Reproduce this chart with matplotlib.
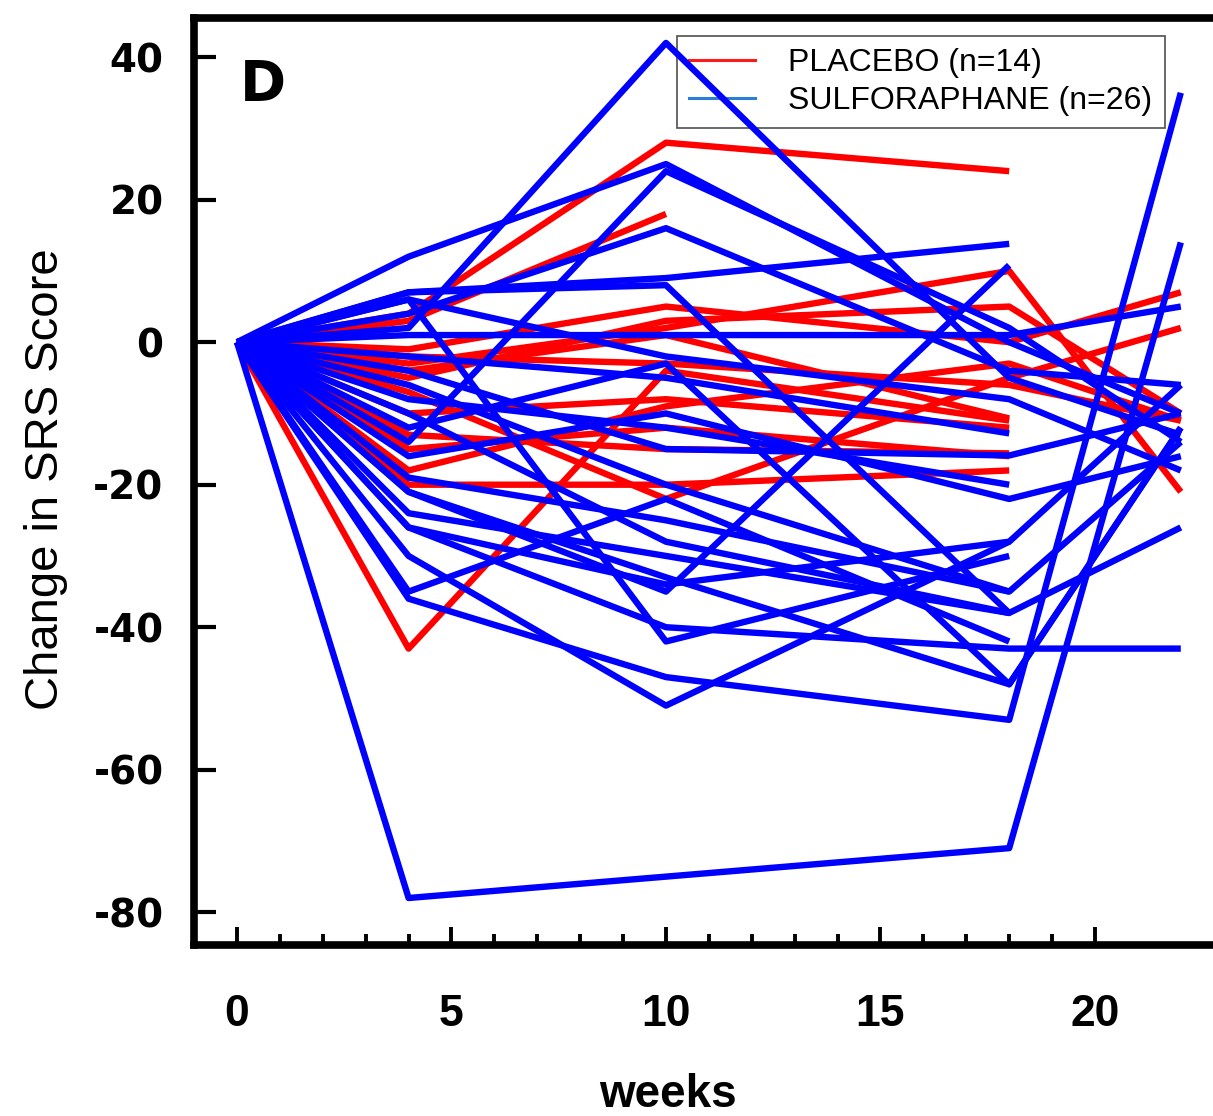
import numpy as np
import matplotlib
matplotlib.use("Agg")
import matplotlib.pyplot as plt
from matplotlib.lines import Line2D
from matplotlib.ticker import FixedLocator

plt.rcParams["axes.unicode_minus"] = False

weeks = [0, 4, 10, 18, 22]
nan = np.nan

# placebo subjects (n=14), change in SRS at each visit
placebo = [
    [0, 4, 28, 24, nan],
    [0, 3, 18, nan, nan],
    [0, -43, -4, -11, nan],
    [0, -7, -22, -5, 2],
    [0, -3, 2, 10, -21],
    [0, -1, 5, 0, 7],
    [0, -5, 3, 5, -10],
    [0, -2, -3, -6, -11],
    [0, -10, -8, -12, nan],
    [0, -15, -12, -16, nan],
    [0, -20, -20, -18, nan],
    [0, -18, -9, -3, -11],
    [0, -4, 1, -10.7, nan],
    [0, -13, -15, -15.6, nan],
]

# sulforaphane subjects (n=26)
sulforaphane = [
    [0, 2, 42, -5, -13],
    [0, 12, 25, 0, -10],
    [0, -14, 24, 2, -14],
    [0, 4, 16, -4, -6],
    [0, 7, 9, 13.8, nan],
    [0, -21, -35, 10.8, nan],
    [0, -36, -47, -53, 35],
    [0, -78, -75, -71, 14],
    [0, -26, -40, -43, -43],
    [0, 1, 1, 1, 5],
    [0, 6, -2, -8, -18],
    [0, -2, -5, -12.8, nan],
    [0, -6, -20, -35, -14],
    [0, -10, -28, -38, -26],
    [0, -16, -10, -22, -16],
    [0, -21, -33, -48, -12],
    [0, 6, -42, -30, nan],
    [0, -30, -51, -28, nan],
    [0, -35, -22, -42, nan],
    [0, -4, -15, -15.9, -10],
    [0, -19, -25, -35, nan],
    [0, -24, -30, -38, nan],
    [0, -12, -3, -48, -12],
    [0, 7, 8, -38, nan],
    [0, -8, -12, -20, nan],
    [0, -26, -34, -28, -6],
]

legend_labels = ["PLACEBO (n=14)", "SULFORAPHANE (n=26)"]
yticks = [-80, -60, -40, -20, 0, 20, 40]
xticks = [0, 5, 10, 15, 20]

arial = ["Liberation Sans", "DejaVu Sans"]

fig = plt.figure(figsize=(12.13, 11.16), dpi=100)
ax = fig.add_axes([0.160, 0.1532, 0.8665, 0.8307])

for row in placebo:
    ax.plot(weeks, row, color="#ff0000", lw=4.6, solid_capstyle="butt")
for row in sulforaphane:
    ax.plot(weeks, row, color="#0000ff", lw=4.6, solid_capstyle="butt")

ax.set_xlim(-1, 23.5)
ax.set_ylim(-84.6, 45.5)

for s in ax.spines.values():
    s.set_linewidth(5.5)

ax.yaxis.set_major_locator(FixedLocator(yticks))
ax.xaxis.set_major_locator(FixedLocator(xticks))
ax.xaxis.set_minor_locator(FixedLocator([w for w in range(0, 21) if w % 5]))
ax.tick_params(axis="y", direction="in", length=16, width=3, pad=22, labelsize=28)
ax.tick_params(axis="x", which="major", direction="in", length=13, width=2.8, pad=35)
ax.tick_params(axis="x", which="minor", direction="in", length=8, width=2.8)
for lab in ax.get_yticklabels():
    lab.set_fontweight("bold")
    lab.set_family("DejaVu Sans")
for lab in ax.get_xticklabels():
    lab.set_fontweight("bold")
    lab.set_family(arial)
    lab.set_fontsize(32)

ax.set_xlabel("weeks", fontsize=33, fontweight="bold", family=arial)
ax.xaxis.set_label_coords(0.451, -0.138)
ax.set_ylabel("Change in SRS Score", fontsize=34, family=arial)
ax.yaxis.set_label_coords(-0.120, 0.502)

ax.text(0.0438, 0.957, "D", transform=ax.transAxes, fontsize=40, fontweight="bold",
        ha="left", va="top", family="DejaVu Sans")

handles = [Line2D([], [], color="#ff1a1a", lw=2.2),
           Line2D([], [], color="#2a7fd4", lw=2.2)]
leg = ax.legend(handles, legend_labels, loc="upper left", bbox_to_anchor=(0.4596, 0.9806),
                borderaxespad=0, prop={"family": arial, "size": 23},
                handlelength=2.05, handletextpad=1.05, labelspacing=0.25,
                borderpad=0.38, fancybox=False, facecolor="none")
leg.get_frame().set_edgecolor("#222222")
leg.get_frame().set_linewidth(1.2)
leg.set_zorder(1)

fig.savefig("out.png", dpi=100)
